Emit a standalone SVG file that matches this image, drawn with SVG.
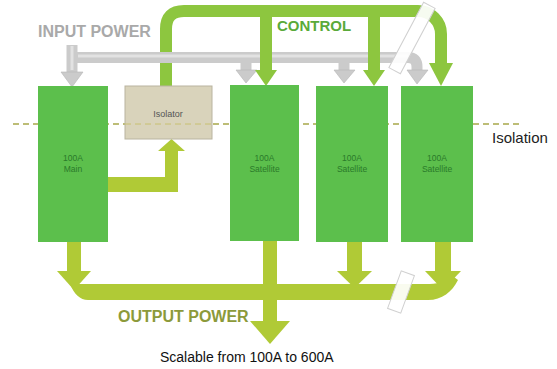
<svg xmlns="http://www.w3.org/2000/svg" width="557" height="369" viewBox="0 0 557 369">
<defs>
<style>
.box{fill:#5cbf4c;}
.iso{fill:#d9d3bb;stroke:#b9b4a0;stroke-width:1;}
.lbl{font-family:"Liberation Sans",Arial,sans-serif;font-size:8.5px;fill:#2a7a2a;text-anchor:middle;}
.out{fill:#b0ca36;}
.ctl{fill:none;stroke:#8dc63f;stroke-width:12;}
.ctlf{fill:#8dc63f;}
.gray{fill:none;stroke:#cbcbcb;stroke-width:11;}
.grayhi{fill:none;stroke:#e2e2e2;stroke-width:3;}
.grayf{fill:#cbcbcb;stroke:#b5b5b5;stroke-width:0.6;}
.title{font-family:"Liberation Sans",Arial,sans-serif;font-weight:bold;}
.brk{fill:#ffffff;fill-opacity:0.92;stroke:#d0d0d0;stroke-width:1;}
</style>
</defs>

<line x1="13" y1="124" x2="522" y2="124" stroke="#a8a84a" stroke-width="1.5" stroke-dasharray="6,4"/>

<g id="connectors">
  <!-- control pipe -->
  <path class="ctl" d="M166,86 V29 Q166,11 184,11 H418 A23 23 0 0 1 441 34 V64"/>
  <polygon class="ctlf" points="429,63 453,63 441,86"/>
  <!-- input power pipe -->
  <path class="gray" d="M72,45 V72 M72,57.5 H408 Q417,57.5 417,67 V71"/>
  <path class="grayhi" d="M72,46 V70 M78,56 H408"/>
  <polygon class="grayf" points="61,72 83,72 72,87"/>
  <polygon class="grayf" points="407,70 428,70 417,84"/>
  <path class="gray" d="M246,60 V71 M344,60 V71" stroke-width="10"/>
  <polygon class="grayf" points="236,70 257,70 246,83"/>
  <polygon class="grayf" points="334,70 355,70 344,83"/>
  <!-- control branches -->
  <path class="ctl" d="M266,11 V72 M374,11 V72" stroke-width="11"/>
  <polygon class="ctlf" points="255,70 277,70 266,86"/>
  <polygon class="ctlf" points="363,70 385,70 374,86"/>
  <!-- isolator feed -->
  <polygon class="out" points="108,177 165,177 165,151 158,151 171.5,139 185,151 178,151 178,192 108,192"/>
  <!-- output bus -->
  <path class="out" d="M70,284 L430,284 C440,284 446,280 450,274 L458,280 C452,292 442,300 428,300 L88,300 C80,300 74,294 70,284 Z"/>
  <rect class="out" x="67" y="242" width="14" height="31"/>
  <polygon class="out" points="57,271 91,271 74,290"/>
  <rect class="out" x="263" y="240" width="14" height="83"/>
  <polygon class="out" points="250,321 290,321 270,344"/>
  <rect class="out" x="347" y="242" width="15" height="31"/>
  <polygon class="out" points="337,271 372,271 354.5,288"/>
  <rect class="out" x="435" y="242" width="16" height="31"/>
  <polygon class="out" points="425,271 461,271 443,290"/>
  <!-- break marks -->
  <rect class="brk" x="405.5" y="1" width="13" height="74" transform="rotate(28 412 38)"/>
  <rect class="brk" x="394" y="272" width="14" height="40" transform="rotate(20 401 292)"/>
</g>

<g id="main">
  <rect class="box" x="38" y="86" width="70" height="156"/>
  <text class="lbl" x="73" y="161">100A</text>
  <text class="lbl" x="73" y="172">Main</text>
</g>
<g id="isolator">
  <rect class="iso" x="125" y="86" width="87" height="53"/>
  <line x1="125" y1="124" x2="212" y2="124" stroke="#c8c070" stroke-width="1" stroke-dasharray="6,4"/>
  <text x="168" y="117" font-family="Liberation Sans, Arial, sans-serif" font-size="9" fill="#555" text-anchor="middle">Isolator</text>
</g>
<g id="sat1">
  <rect class="box" x="230" y="85" width="69" height="156"/>
  <text class="lbl" x="264.5" y="161">100A</text>
  <text class="lbl" x="264.5" y="172">Satellite</text>
</g>
<g id="sat2">
  <rect class="box" x="316" y="86" width="72" height="156"/>
  <text class="lbl" x="352" y="161">100A</text>
  <text class="lbl" x="352" y="172">Satellite</text>
</g>
<g id="sat3">
  <rect class="box" x="401" y="86" width="72" height="156"/>
  <text class="lbl" x="437" y="161">100A</text>
  <text class="lbl" x="437" y="172">Satellite</text>
</g>

<text class="title" x="38" y="37" font-size="16" fill="#a9a9a9">INPUT POWER</text>
<text class="title" x="277" y="31" font-size="15" fill="#5aaa3a">CONTROL</text>
<text class="title" x="118" y="322" font-size="16" fill="#8c9a3a">OUTPUT POWER</text>
<text x="492" y="143" font-family="Liberation Sans, Arial, sans-serif" font-size="15" fill="#222">Isolation</text>
<text x="160" y="362" font-family="Liberation Sans, Arial, sans-serif" font-size="14" fill="#111">Scalable from 100A to 600A</text>
</svg>
